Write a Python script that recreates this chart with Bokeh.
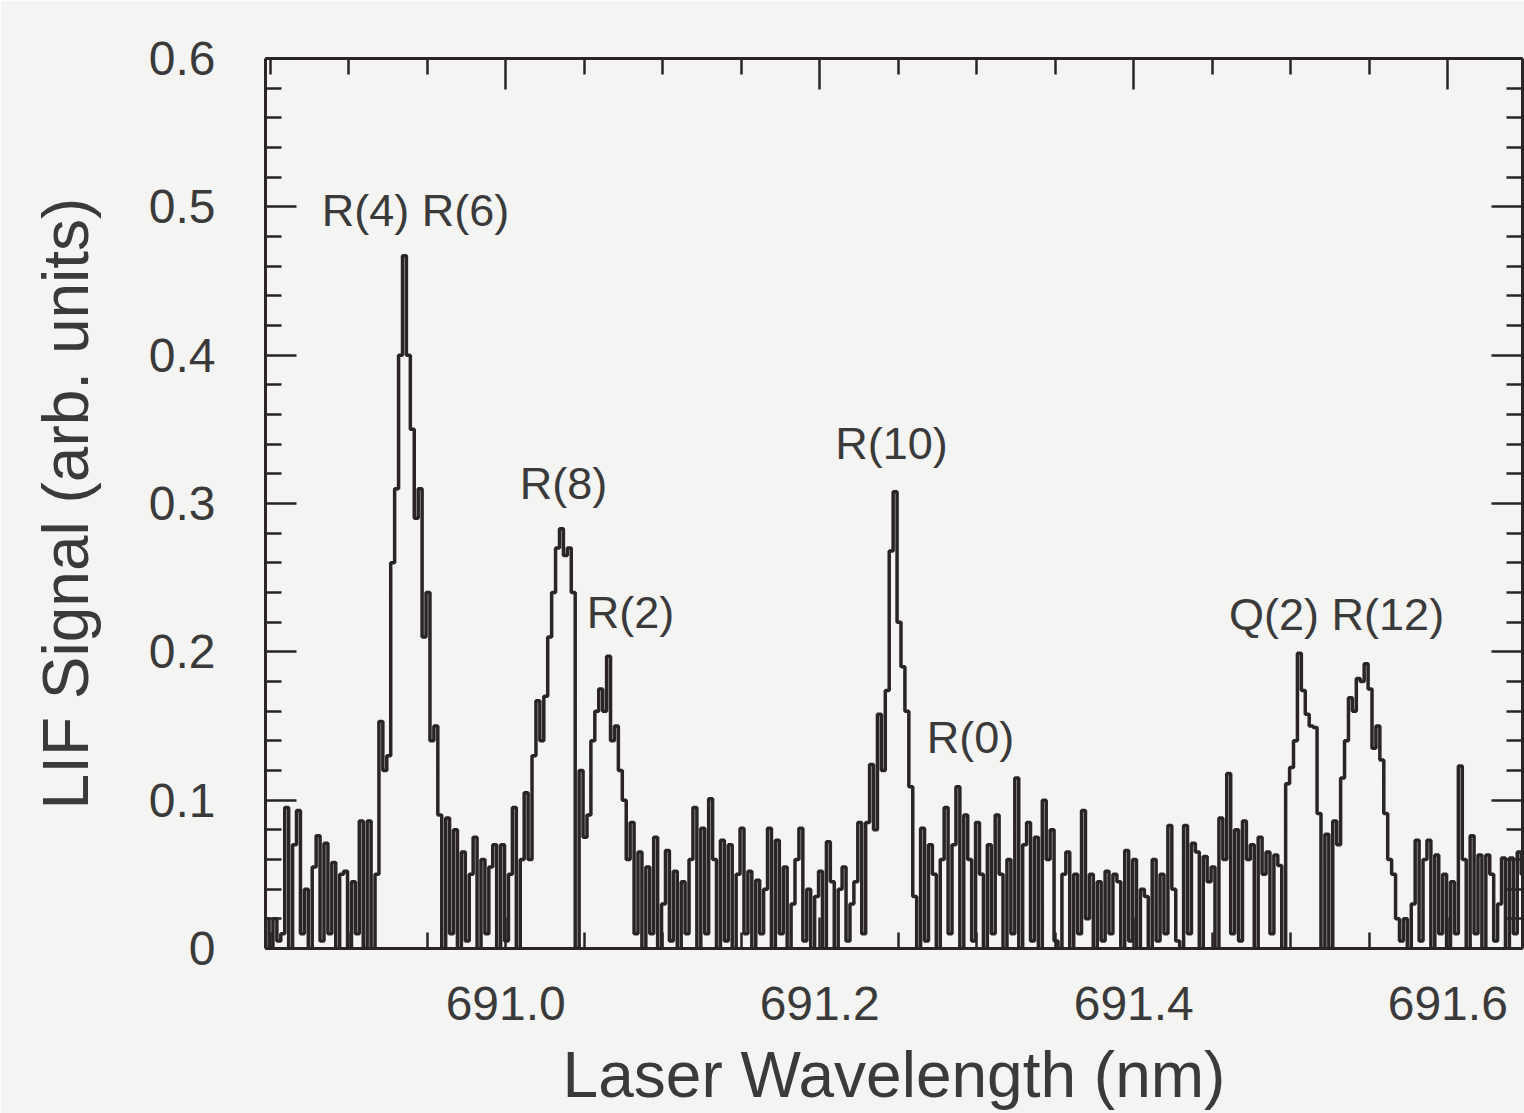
from bokeh.plotting import figure
from bokeh.models import LinearAxis, FixedTicker, Range1d, ColumnDataSource, PrintfTickFormatter
from bokeh.embed import file_html
from bokeh.resources import INLINE
from bokeh.core.properties import value

# ---- data ----
WL_START = 690.848   # nm, first sample of the scan
WL_STEP = 0.0025     # nm, scan step

signal = [
    0.02, 0.0, 0.02, 0.005, 0.01, 0.095, 0.0, 0.07, 0.093, 0.01,
    0.04, 0.0, 0.055, 0.076, 0.005, 0.071, 0.01, 0.058, 0.0, 0.05,
    0.052, 0.0, 0.045, 0.01, 0.086, 0.0, 0.086, 0.0, 0.05, 0.153,
    0.12, 0.13, 0.26, 0.31, 0.40, 0.467, 0.40, 0.35, 0.29, 0.31,
    0.21, 0.24, 0.14, 0.15, 0.09, 0.0, 0.088, 0.01, 0.08, 0.0,
    0.065, 0.005, 0.05, 0.075, 0.0, 0.06, 0.01, 0.055, 0.07, 0.0,
    0.07, 0.005, 0.05, 0.095, 0.0, 0.06, 0.105, 0.06, 0.13, 0.167,
    0.14, 0.17, 0.21, 0.24, 0.27, 0.283, 0.265, 0.27, 0.24, 0.0,
    0.12, 0.075, 0.09, 0.14, 0.16, 0.175, 0.16, 0.197, 0.14, 0.15,
    0.12, 0.10, 0.06, 0.085, 0.01, 0.065, 0.0, 0.055, 0.01, 0.075,
    0.0, 0.03, 0.066, 0.005, 0.052, 0.0, 0.045, 0.01, 0.06, 0.095,
    0.0, 0.081, 0.01, 0.101, 0.06, 0.0, 0.073, 0.005, 0.07, 0.0,
    0.05, 0.081, 0.01, 0.052, 0.0, 0.046, 0.01, 0.04, 0.081, 0.0,
    0.073, 0.01, 0.055, 0.0, 0.03, 0.06, 0.081, 0.005, 0.04, 0.0,
    0.035, 0.052, 0.0, 0.072, 0.045, 0.0, 0.04, 0.055, 0.005, 0.03,
    0.045, 0.085, 0.01, 0.085, 0.124, 0.08, 0.158, 0.12, 0.174, 0.268,
    0.308, 0.22, 0.19, 0.16, 0.109, 0.035, 0.0, 0.081, 0.005, 0.07,
    0.05, 0.0, 0.06, 0.095, 0.01, 0.07, 0.109, 0.0, 0.09, 0.06,
    0.005, 0.085, 0.05, 0.0, 0.07, 0.01, 0.09, 0.05, 0.0, 0.06,
    0.01, 0.115, 0.0, 0.07, 0.085, 0.005, 0.075, 0.0, 0.10, 0.06,
    0.08, 0.005, 0.0, 0.05, 0.065, 0.0, 0.05, 0.01, 0.093, 0.02,
    0.05, 0.0, 0.045, 0.005, 0.052, 0.01, 0.05, 0.045, 0.0, 0.066,
    0.005, 0.06, 0.0, 0.04, 0.035, 0.0, 0.06, 0.005, 0.05, 0.01,
    0.083, 0.04, 0.005, 0.0, 0.083, 0.01, 0.071, 0.065, 0.0, 0.062,
    0.045, 0.055, 0.0, 0.088, 0.06, 0.118, 0.01, 0.08, 0.005, 0.086,
    0.06, 0.07, 0.0, 0.075, 0.05, 0.065, 0.01, 0.063, 0.056, 0.0,
    0.111, 0.122, 0.14, 0.199, 0.174, 0.158, 0.15, 0.149, 0.091, 0.0,
    0.077, 0.0, 0.086, 0.07, 0.115, 0.14, 0.169, 0.16, 0.182, 0.18,
    0.192, 0.175, 0.135, 0.15, 0.127, 0.091, 0.06, 0.05, 0.02, 0.005,
    0.02, 0.0, 0.03, 0.073, 0.005, 0.06, 0.073, 0.0, 0.063, 0.01,
    0.05, 0.0, 0.045, 0.01, 0.123, 0.06, 0.0, 0.076, 0.01, 0.063,
    0.0, 0.063, 0.05, 0.005, 0.03, 0.061, 0.0, 0.061, 0.01, 0.065, 0.05,
]
wavelength = [WL_START + WL_STEP * i for i in range(len(signal))]

line_labels = ["R(4) R(6)", "R(8)", "R(2)", "R(10)", "R(0)", "Q(2) R(12)"]
label_x = [690.9425, 691.0368, 691.0795, 691.2457, 691.2960, 691.5292]
label_y = [0.4976, 0.3138, 0.2263, 0.3407, 0.1421, 0.2249]

x_major = [691.0, 691.2, 691.4, 691.6]
x_minor = [690.85, 690.9, 690.95, 691.05, 691.1, 691.15, 691.25, 691.3, 691.35,
           691.45, 691.5, 691.55, 691.65]
y_major = [0, 0.1, 0.2, 0.3, 0.4, 0.5, 0.6]
y_minor = [0.02, 0.04, 0.06, 0.08, 0.12, 0.14, 0.16, 0.18, 0.22, 0.24, 0.26, 0.28,
           0.32, 0.34, 0.36, 0.38, 0.42, 0.44, 0.46, 0.48, 0.52, 0.54, 0.56, 0.58]

# ---- style ----
BG = "#f4f4f2"
INK = "#2a2426"
TXT = "#3a3a3a"
FONT = "Liberation Sans"

p = figure(width=1524, height=1113, output_backend="svg", toolbar_location=None,
           x_range=Range1d(690.847, 691.6476), y_range=Range1d(0, 0.6),
           min_border_left=265, min_border_right=2, min_border_top=58,
           min_border_bottom=165, background_fill_color=BG, border_fill_color=BG,
           outline_line_color=None)
p.grid.visible = False

src = ColumnDataSource(dict(wl=wavelength, sig=signal))
p.step(x="wl", y="sig", source=src, mode="center", line_width=3.5, line_color=INK)

lab_src = ColumnDataSource(dict(x=label_x, y=label_y, t=line_labels))
p.text(x="x", y="y", text="t", source=lab_src, text_font=value(FONT),
       text_font_size="45px", text_color=TXT, text_align="center",
       text_baseline="middle")


def style_axis(ax, ticker, show_labels):
    ax.ticker = ticker
    ax.axis_line_width = 3
    ax.axis_line_color = INK
    ax.major_tick_line_color = INK
    ax.minor_tick_line_color = INK
    ax.major_tick_line_width = 2.5
    ax.minor_tick_line_width = 2.5
    ax.major_tick_in = 31
    ax.major_tick_out = 0
    ax.minor_tick_in = 16
    ax.minor_tick_out = 0
    if show_labels:
        ax.major_label_text_font = FONT
        ax.major_label_text_font_size = "48px"
        ax.major_label_text_color = TXT
    else:
        ax.formatter = PrintfTickFormatter(format="")
        ax.major_label_standoff = 0


xt = FixedTicker(ticks=x_major, minor_ticks=x_minor)
yt = FixedTicker(ticks=y_major, minor_ticks=y_minor)

bx = p.xaxis[0]
style_axis(bx, xt, True)
bx.formatter = PrintfTickFormatter(format="%.1f")
bx.major_label_standoff = 38
bx.axis_label = "Laser Wavelength (nm)"
bx.axis_label_text_font = FONT
bx.axis_label_text_font_style = "normal"
bx.axis_label_text_font_size = "64px"
bx.axis_label_text_color = TXT
bx.axis_label_standoff = 16

ly = p.yaxis[0]
style_axis(ly, yt, True)
ly.major_label_overrides = {0: "0", 0.1: "0.1", 0.2: "0.2", 0.3: "0.3",
                            0.4: "0.4", 0.5: "0.5", 0.6: "0.6"}
ly.major_label_standoff = 50
ly.axis_label = "LIF Signal (arb. units)"
ly.axis_label_text_font = FONT
ly.axis_label_text_font_style = "normal"
ly.axis_label_text_font_size = "64px"
ly.axis_label_text_color = TXT
ly.axis_label_standoff = 44

top = LinearAxis()
style_axis(top, FixedTicker(ticks=x_major, minor_ticks=x_minor), False)
p.add_layout(top, "above")

right = LinearAxis()
style_axis(right, FixedTicker(ticks=y_major, minor_ticks=y_minor), False)
p.add_layout(right, "right")

open("out.html", "w").write(file_html(p, INLINE))
